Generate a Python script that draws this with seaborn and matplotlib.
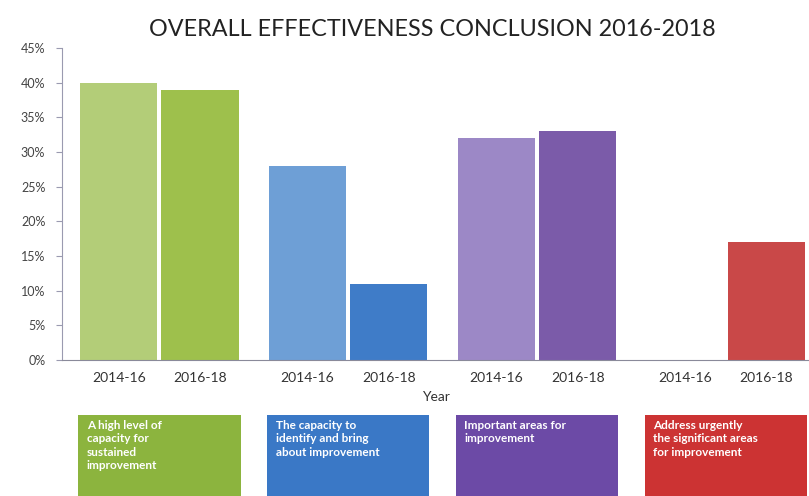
import matplotlib
matplotlib.use("Agg")
import matplotlib.pyplot as plt
import matplotlib.transforms as mtransforms
from matplotlib.patches import Rectangle
import seaborn as sns
import pandas as pd

groups = ["A high level of capacity for sustained improvement",
          "The capacity to identify and bring about improvement",
          "Important areas for improvement",
          "Address urgently the significant areas for improvement"]
box_texts = ["A high level of\ncapacity for\nsustained\nimprovement",
             "The capacity to\nidentify and bring\nabout improvement",
             "Important areas for\nimprovement",
             "Address urgently\nthe significant areas\nfor improvement"]
years = ["2014-16", "2016-18"]
values_2014_16 = [40, 28, 32, 0]
values_2016_18 = [39, 11, 33, 17]
bar_colors_2014_16 = ["#b3cd78", "#6e9fd6", "#9c88c6", "#c94848"]
bar_colors_2016_18 = ["#9ec04c", "#3f7cc8", "#7b5ba9", "#c94848"]
box_colors = ["#8cb43e", "#3a78c6", "#6c4aa6", "#cc3333"]
yticks = [0, 5, 10, 15, 20, 25, 30, 35, 40, 45]

sns.set_theme(style="white")
plt.rcParams['font.family'] = ['Lato', 'DejaVu Sans']

df = pd.DataFrame({
    "group": groups * 2,
    "Year": [years[0]] * 4 + [years[1]] * 4,
    "value": values_2014_16 + values_2016_18,
})

fig = plt.figure(figsize=(8.09, 4.96), dpi=100)
ax = fig.add_axes([62 / 809, 1 - 360 / 496, 1 - 62 / 809, (360 - 48) / 496])

sns.barplot(data=df, x="group", y="value", hue="Year", order=groups,
            hue_order=years, width=0.86, gap=0.05, ax=ax, legend=False,
            saturation=1, edgecolor="none")

colors = bar_colors_2014_16 + bar_colors_2016_18
centers = []
for patch, c in zip(ax.patches, colors):
    patch.set_facecolor(c)
    centers.append(patch.get_x() + patch.get_width() / 2)

ax.set_xticks(centers)
ax.set_xticklabels([years[0]] * 4 + [years[1]] * 4, fontsize=10, color="#333333")
ax.set_xlim(-0.516, 3.44)
ax.set_ylim(0, 45)
ax.set_yticks(yticks)
ax.set_yticklabels([f"{t}%" for t in yticks], fontsize=9, color="#444444")
ax.tick_params(axis="y", which="major", length=4, width=0.8, color="#9a9ab0", left=True, pad=8)
ax.tick_params(axis="x", length=0, pad=9)
ax.set_ylabel("")
ax.set_xlabel("Year", fontsize=10, color="#333333", labelpad=5)
for s in ["top", "right"]:
    ax.spines[s].set_visible(False)
ax.spines["left"].set_color("#9a9ab0")
ax.spines["bottom"].set_color("#8a8a9a")
ax.spines["left"].set_linewidth(0.8)
ax.spines["bottom"].set_linewidth(0.8)

fig.suptitle("OVERALL EFFECTIVENESS CONCLUSION 2016-2018", x=0.534, y=0.962,
             fontsize=16.8, color="#222222")

trans = mtransforms.blended_transform_factory(ax.transData, fig.transFigure)
for i, (txt, bc) in enumerate(zip(box_texts, box_colors)):
    x0 = i - 0.43
    rect = Rectangle((x0, 0.0), 0.86, (496 - 415) / 496, transform=trans,
                     facecolor=bc, edgecolor="none", clip_on=False)
    ax.add_patch(rect)
    ax.text(x0 + 0.045, 1 - 420 / 496, txt, transform=trans, ha="left", va="top",
            fontsize=8.5, fontweight="bold", color="white", linespacing=1.25,
            clip_on=False)

fig.savefig("out.png", dpi=100)
